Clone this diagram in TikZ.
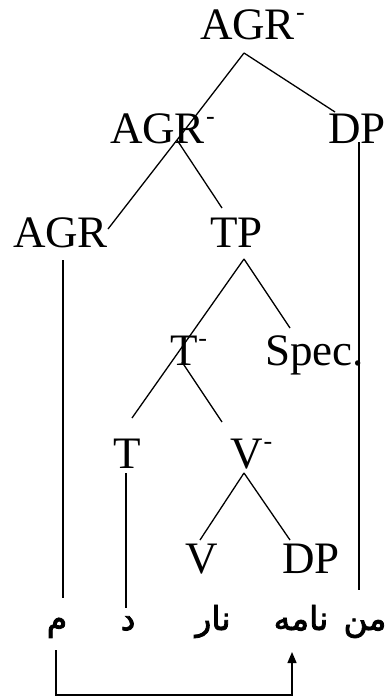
\documentclass[tikz,border=0pt]{standalone}
\usepackage{fontspec}
\setmainfont{Liberation Serif}
\newfontfamily\arabicfont[Script=Arabic,FakeBold=2.5]{DejaVu Sans}
\TeXXeTstate=1
\usetikzlibrary{arrows.meta}
\newcommand{\barmark}{\kern1pt\raisebox{19pt}{\fontsize{26}{26}\selectfont -}}
\begin{document}
\begin{tikzpicture}[x=1pt,y=-1pt,
  lbl/.style={inner sep=0pt,outer sep=0pt,anchor=base west,font=\fontsize{45}{45}\selectfont},
  ar/.style={inner sep=0pt,outer sep=0pt,anchor=base,font=\arabicfont\fontsize{33}{33}\selectfont},
  br/.style={line width=1.3pt},
  ]
\useasboundingbox (0,0) rectangle (385,698);
% labels
\node[lbl] (agrTop) at (200,40) {AGR\barmark};
\node[lbl] (agrMid) at (110,143) {AGR\barmark};
\node[lbl] (dpTop) at (328,143) {DP};
\node[lbl] (agr) at (13,247) {AGR};
\node[lbl] (tp) at (210,247) {TP};
\node[lbl] (tbar) at (170,365) {T\barmark};
\node[lbl] (spec) at (265,365) {Spec.};
\node[lbl] (t) at (113,468) {T};
\node[lbl] (vbar) at (230,468) {V\barmark};
\node[lbl] (v) at (185,573) {V};
\node[lbl] (dp) at (282,573) {DP};
% arabic words
\node[ar] (w1) at (57,630) {\beginR م\endR};
\node[ar] (w2) at (128,630) {\beginR د\endR};
\node[ar] (w3) at (213,630) {\beginR نار\endR};
\node[ar] (w4) at (301,630) {\beginR نامه\endR};
\node[ar] (w5) at (365,630) {\beginR من\endR};
% branch points
\coordinate (pTop) at (244,53);
\coordinate (pMid) at (177,140);
\coordinate (eDP) at (335,112);
\coordinate (eAGR) at (108,229);
\coordinate (eTP) at (222,208);
\coordinate (pTP) at (244,259);
\coordinate (eT) at (132,418);
\coordinate (eSpec) at (290,328);
\coordinate (pTbar) at (182,362);
\coordinate (eV) at (222,422);
\coordinate (pV) at (244,473);
\coordinate (eVV) at (200,540);
\coordinate (eDPl) at (290,540);
\coordinate (dpA) at (359,142);
\coordinate (dpB) at (359,590);
\coordinate (agA) at (63,260);
\coordinate (agB) at (63,598);
\coordinate (tA) at (126,473);
\coordinate (tB) at (126,608);
\coordinate (mvA) at (56,650);
\coordinate (mvB) at (56,695);
\coordinate (mvC) at (292,695);
\coordinate (mvD) at (292,652);
% tree
\draw[br] (pTop) -- (pMid);
\draw[br] (pTop) -- (eDP);
\draw[br] (pMid) -- (eAGR);
\draw[br] (pMid) -- (eTP);
\draw[br] (pTP) -- (eT);
\draw[br] (pTP) -- (eSpec);
\draw[br] (pTbar) -- (eV);
\draw[br] (pV) -- (eVV);
\draw[br] (pV) -- (eDPl);
% vertical links
\draw[br] (dpA) -- (dpB);
\draw[br] (agA) -- (agB);
\draw[br] (tA) -- (tB);
% movement arrow
\draw[br,-{Triangle[length=11pt,width=9pt]}] (mvA) -- (mvB) -- (mvC) -- (mvD);
\end{tikzpicture}
\end{document}
